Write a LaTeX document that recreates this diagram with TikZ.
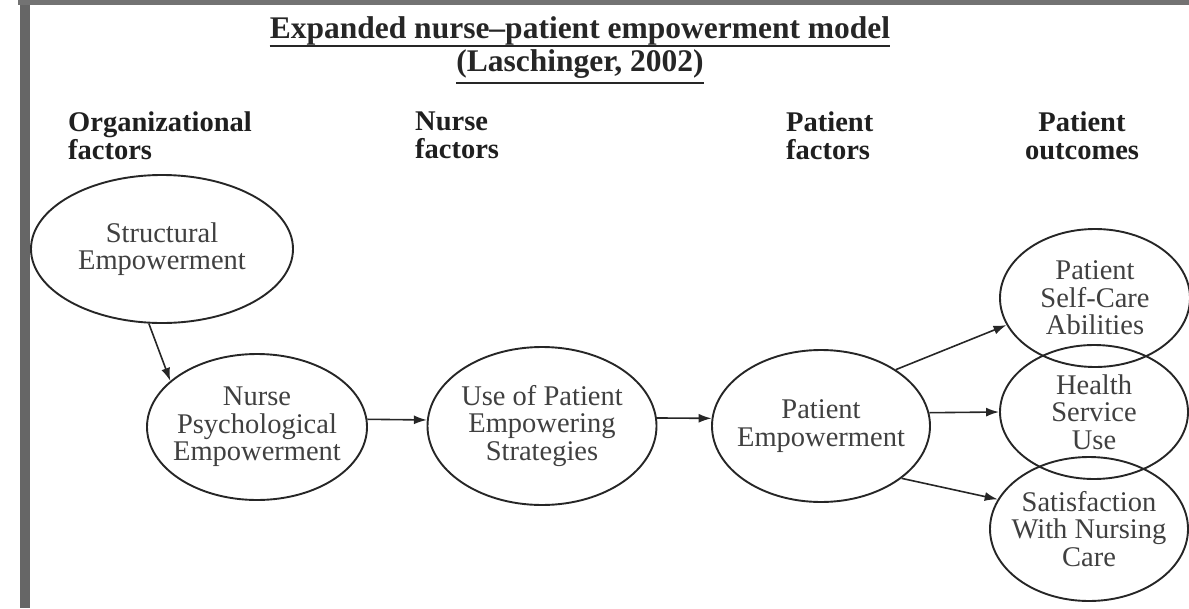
\documentclass[tikz,border=0pt]{standalone}
\usepackage{fontspec}
\setmainfont{Liberation Serif}
\usetikzlibrary{shapes.geometric,arrows.meta,positioning}

\begin{document}
\begin{tikzpicture}[x=1pt,y=-1pt,
  factor/.style={ellipse,draw=black!85,line width=1.9pt,inner xsep=-30pt,inner ysep=-12pt,
    align=center,text=black!75,font=\fontsize{28.5}{27.5}\selectfont},
  head/.style={anchor=north west,inner sep=0pt,align=left,text=black!88,
    execute at begin node=\strut,font=\fontsize{28.5}{28}\selectfont\bfseries},
  ttlfont/.style={anchor=base,inner sep=0pt,text=black!85,font=\fontsize{31.5}{34}\selectfont\bfseries},
  link/.style={-{Latex[length=13pt,width=9pt]},line width=1.6pt,draw=black!85}]
  \useasboundingbox (0,0) rectangle (1189,608);
  % frame of the scanned page
  \fill[black!60] (20,0) rectangle (30,608);
  \fill[black!55] (18,0) rectangle (1189,5);

  % title
  \node[ttlfont] (ttl) at (580,38) {Expanded nurse--patient empowerment model};
  \node[ttlfont] (cit) at (580,71) {(Laschinger, 2002)};
  \draw[line width=2.2pt,black!85] ([yshift=-8pt]ttl.base west) -- ([yshift=-8pt]ttl.base east);
  \draw[line width=2.2pt,black!85] ([yshift=-12pt]cit.base west) -- ([yshift=-12pt]cit.base east);

  % column heads
  \node[head] (org) at (68,112) {Organizational\\factors};
  \node[head] (nrs) at (415,112) {Nurse\\factors};
  \node[head] (ptf) at (786,112) {Patient\\factors};
  \node[head,anchor=north,align=center] (out) at (1082,112) {Patient\\outcomes};

  % factors
  \node[factor,minimum width=262pt,minimum height=148pt] (se) at (162,249) {Structural\\Empowerment};
  \node[factor,minimum width=220pt,minimum height=146pt] (npe) at (257,427) {Nurse\\Psychological\\Empowerment};
  \node[factor,minimum width=229pt,minimum height=158pt] (use) at (542,426) {Use of Patient\\Empowering\\Strategies};
  \node[factor,minimum width=218pt,minimum height=152pt] (pe) at (821,426) {Patient\\Empowerment};

  % outcomes
  \node[factor,minimum width=190pt,minimum height=138pt] (self) at (1095,298) {Patient\\Self-Care\\Abilities};
  \node[factor,minimum width=188pt,minimum height=134pt] (health) at (1094,412) {Health\\Service\\Use};
  \node[factor,minimum width=198pt,minimum height=144pt] (sat) at (1089,529) {Satisfaction\\With Nursing\\Care};

  \draw[link] (se.260) -- (npe.152);
  \draw[link] (npe.4) -- (use.177);
  \draw[link] (use.4) -- (pe.176);
  \foreach \a/\t/\b in {37/self/197, 7/health/180, -33/sat/162}
    \draw[link] (pe.\a) -- (\t.\b);
\end{tikzpicture}
\end{document}
